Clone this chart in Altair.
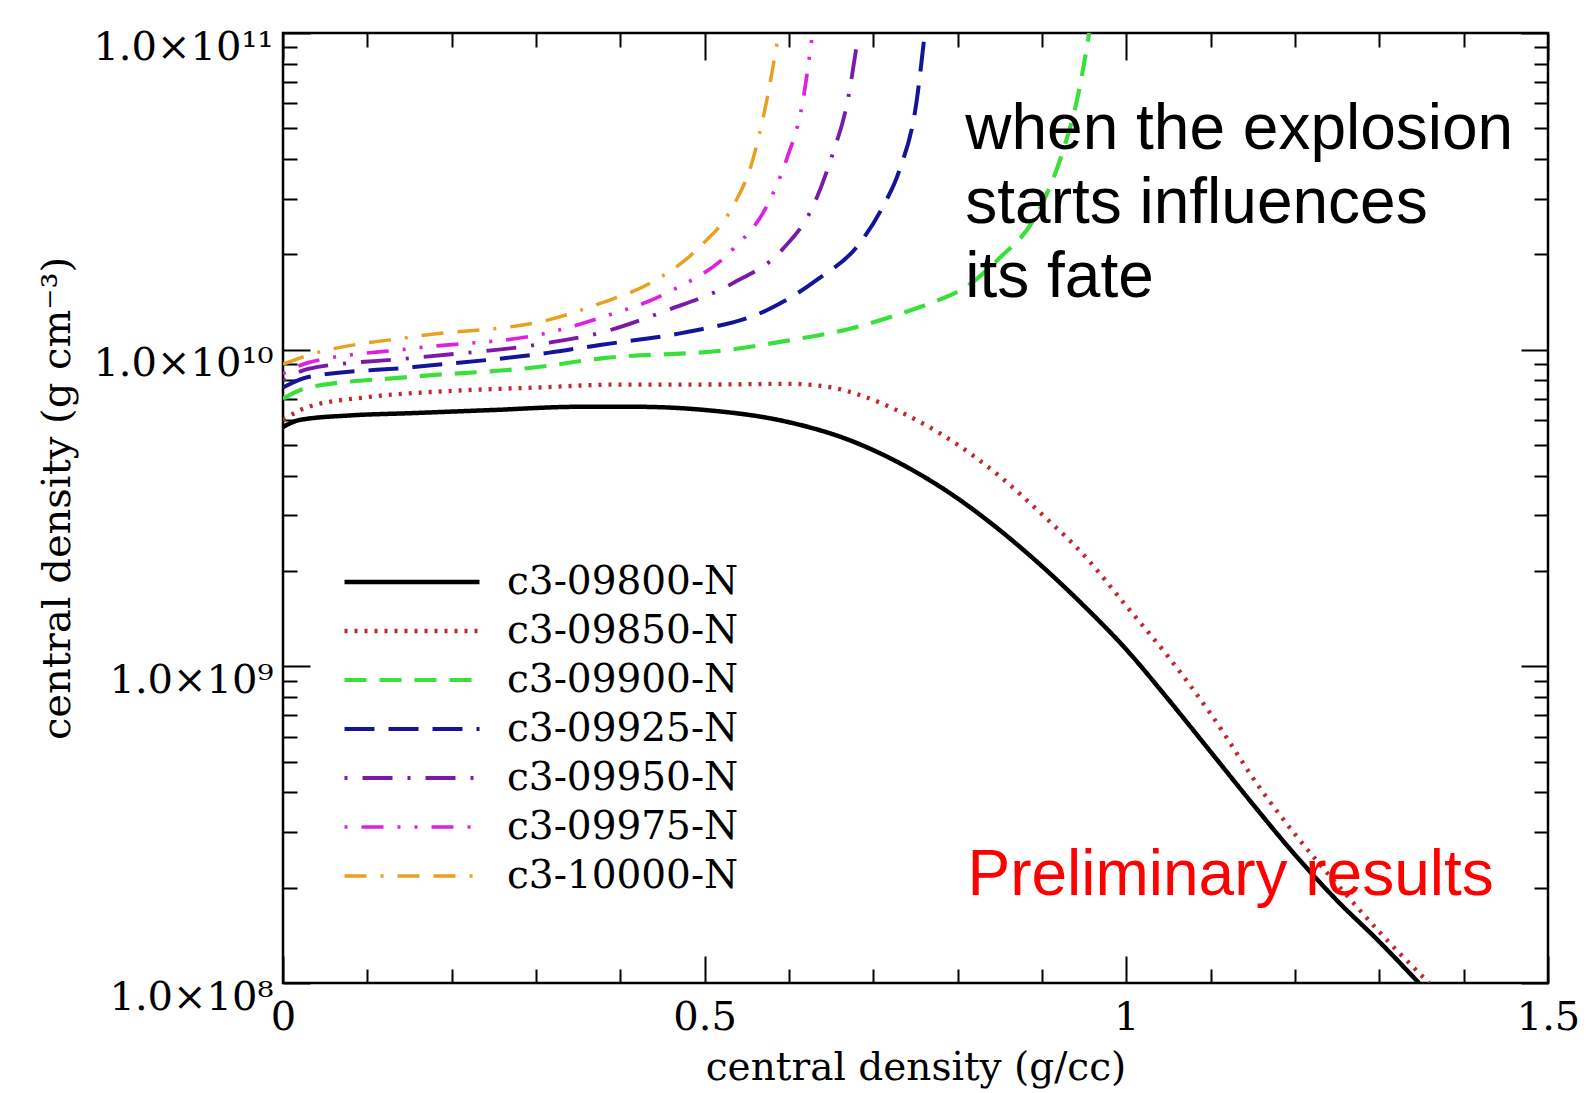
import altair as alt
import pandas as pd

# ---------------- data ----------------
SERIES = ["c3-09800-N", "c3-09850-N", "c3-09900-N", "c3-09925-N",
          "c3-09950-N", "c3-09975-N", "c3-10000-N"]
COLORS = ["#000000", "#c0282d", "#3ae03a", "#14149a", "#7a1aa6", "#e020e0", "#e8a020"]
DASHES = [[1, 0], [3, 7], [22, 13], [30, 14], [3, 15, 30, 15],
          [3, 14, 22, 14, 3, 14], [22, 14, 3, 14, 22, 14]]
WIDTHS = [4.5, 3.5, 3.5, 3.5, 3.5, 3.5, 3.5]

# x = central density (g/cc) ; rho in units of 1e9 g cm^-3
X_09800 = [0.0, 0.02, 0.08, 0.15, 0.25, 0.35, 0.42, 0.5, 0.6, 0.67, 0.73, 0.8, 0.85,
           0.9, 0.95, 1.0, 1.05, 1.1, 1.15, 1.2, 1.25, 1.3, 1.347]
R_09800 = [5.7, 6.0, 6.2, 6.3, 6.45, 6.6, 6.6, 6.45, 5.9, 5.2, 4.4, 3.39, 2.69,
           2.07, 1.55, 1.13, 0.785, 0.537, 0.367, 0.254, 0.182, 0.135, 0.1]

X_09850 = [0.0, 0.03, 0.1, 0.2, 0.3, 0.4, 0.5, 0.6, 0.65, 0.69, 0.73, 0.8, 0.85, 0.9,
           0.95, 1.0, 1.05, 1.1, 1.16, 1.2, 1.26, 1.3, 1.359]
R_09850 = [6.0, 6.6, 7.08, 7.41, 7.59, 7.76, 7.76, 7.8, 7.6, 7.1, 6.4, 5.01, 3.98, 3.02,
           2.24, 1.55, 1.07, 0.708, 0.407, 0.295, 0.191, 0.145, 0.1]

X_09900 = [0.0, 0.03, 0.15, 0.3, 0.38, 0.53, 0.6, 0.67, 0.74, 0.77, 0.81, 0.85,
           0.89, 0.91, 0.924, 0.944, 0.956]
R_09900 = [7.0, 7.6, 8.2, 8.8, 9.4, 10.0, 10.7, 11.6, 13.2, 14.1, 15.8, 19.5,
           25.7, 33.0, 41.7, 66.0, 100.0]

X_09925 = [0.0, 0.03, 0.155, 0.314, 0.376, 0.474, 0.573, 0.633, 0.684, 0.711,
           0.731, 0.751, 0.761]
R_09925 = [7.6, 8.2, 8.81, 9.77, 10.35, 11.3, 13.3, 16.6, 21.7, 28.2, 36.9, 60.1, 100.0]

X_09950 = [0.0, 0.03, 0.155, 0.314, 0.376, 0.455, 0.533, 0.592, 0.628, 0.652, 0.669, 0.68]
R_09950 = [8.0, 8.7, 9.42, 10.5, 11.3, 13.3, 16.2, 20.7, 28.2, 41.7, 60.1, 90.4]

X_09975 = [0.0, 0.03, 0.155, 0.314, 0.376, 0.455, 0.533, 0.573, 0.597, 0.616, 0.628]
R_09975 = [8.4, 9.1, 10.1, 11.3, 12.6, 15.1, 20.7, 28.2, 39.8, 60.1, 100.0]

X_10000 = [0.0, 0.03, 0.155, 0.314, 0.376, 0.435, 0.494, 0.533, 0.556, 0.573, 0.586]
R_10000 = [9.0, 9.6, 11.0, 12.4, 14.0, 16.2, 21.1, 28.2, 38.9, 60.1, 93.3]

XS = [X_09800, X_09850, X_09900, X_09925, X_09950, X_09975, X_10000]
RS = [R_09800, R_09850, R_09900, R_09925, R_09950, R_09975, R_10000]

X_MAJOR = [0, 0.5, 1, 1.5]
X_MINOR = [0.1, 0.2, 0.3, 0.4, 0.6, 0.7, 0.8, 0.9, 1.1, 1.2, 1.3, 1.4]
Y_MAJOR = [1e8, 1e9, 1e10, 1e11]
Y_TICK_LABELS = ["1.0×10⁸", "1.0×10⁹", "1.0×10¹⁰", "1.0×10¹¹"]
Y_MINOR = [k * 10.0 ** n for n in (8, 9, 10) for k in range(2, 10)]

ANNOT_TEXT = ["when the explosion\nstarts influences\nits fate", "Preliminary results"]
ANNOT_X = [0.809, 0.8116]
ANNOT_Y = [4.3e10, 1.9e8]
ANNOT_COLOR = ["#000000", "#ff0000"]

# ---------------- table ----------------
rows = []
for name, xs, rs in zip(SERIES, XS, RS):
    for x, r in zip(xs, rs):
        rows.append({"series": name, "x": x, "rho": r * 1e9})
df = pd.DataFrame(rows)

W, H = 1265, 950
xscale = alt.Scale(domain=[0, 1.5], nice=False, zero=False)
yscale = alt.Scale(type="log", domain=[1e8, 1e11], nice=False)

# label expression for y
expr = "'" + Y_TICK_LABELS[-1] + "'"
for v, lab in reversed(list(zip(Y_MAJOR[:-1], Y_TICK_LABELS[:-1]))):
    expr = f"datum.value < {v * 3:g} ? '{lab}' : ({expr})"

SERIF = "DejaVu Serif"

lines = alt.Chart(df).mark_line(interpolate="monotone", clip=True, strokeCap="butt").encode(
    x=alt.X("x:Q", scale=xscale,
            axis=alt.Axis(values=X_MAJOR, format="~g", orient="bottom", ticks=False, domain=False,
                          grid=False, labelFlush=False, labelOverlap=False,
                          labelFont=SERIF, labelFontSize=40, labelPadding=14, labelColor="black",
                          title="central density (g/cc)", titleFont=SERIF, titleFontSize=39,
                          titleFontWeight="normal", titleColor="black",
                          titleX=W / 2, titleY=84, titleBaseline="middle", titleAlign="center")),
    y=alt.Y("rho:Q", scale=yscale,
            axis=alt.Axis(values=Y_MAJOR, labelExpr=expr, orient="left", ticks=False, domain=False,
                          grid=False, labelOverlap=False, labelBound=False, labelLimit=400,
                          labelFont=SERIF, labelFontSize=40, labelPadding=10, labelOffset=14,
                          labelColor="black", labelBaseline="middle",
                          title="central density (g cm⁻³)", titleFont=SERIF, titleFontSize=40,
                          titleFontWeight="normal", titleColor="black", titleAngle=270,
                          titleX=-226, titleY=465, titleBaseline="middle", titleAlign="center",
                          titleLimit=800)),
    color=alt.Color("series:N", scale=alt.Scale(domain=SERIES, range=COLORS),
                    legend=alt.Legend(title=None, orient="none", legendX=59, legendY=524.5,
                                      padding=0, offset=0, symbolType="stroke", symbolSize=18225,
                                      symbolStrokeWidth=3.5, clipHeight=49, rowPadding=0,
                                      labelOffset=25, labelFont=SERIF, labelFontSize=39,
                                      labelColor="black", labelLimit=400)),
    strokeDash=alt.StrokeDash("series:N", scale=alt.Scale(domain=SERIES, range=DASHES)),
    strokeWidth=alt.StrokeWidth("series:N", scale=alt.Scale(domain=SERIES, range=WIDTHS),
                                legend=None),
)


def tick_layer(xvals, yvals, xorient, yorient, size):
    return alt.Chart(df).mark_point(opacity=0, size=1).encode(
        x=alt.X("x:Q", scale=xscale,
                axis=alt.Axis(values=xvals, orient=xorient, offset=-H, labels=False, domain=False,
                              grid=False, ticks=True, tickSize=size, tickWidth=2,
                              tickColor="black", title=None)),
        y=alt.Y("rho:Q", scale=yscale,
                axis=alt.Axis(values=yvals, orient=yorient, offset=-W, labels=False, domain=False,
                              grid=False, ticks=True, tickSize=size, tickWidth=2,
                              tickColor="black", title=None)),
    )


t1 = tick_layer(X_MAJOR, Y_MAJOR, "top", "right", 27)
t2 = tick_layer(X_MINOR, Y_MINOR, "top", "right", 14)
t3 = tick_layer(X_MAJOR, Y_MAJOR, "bottom", "left", 27)
t4 = tick_layer(X_MINOR, Y_MINOR, "bottom", "left", 14)

annot_df = pd.DataFrame({"text": ANNOT_TEXT, "x": ANNOT_X, "y": ANNOT_Y, "color": ANNOT_COLOR})
annot = alt.Chart(annot_df).mark_text(
    align="left", baseline="alphabetic", font="Liberation Sans", fontSize=64,
    lineBreak="\n", lineHeight=74
).encode(
    x=alt.X("x:Q", scale=xscale, axis=None),
    y=alt.Y("y:Q", scale=yscale, axis=None),
    text="text:N",
    color=alt.Color("color:N", scale=None),
)

chart = alt.layer(lines, t1, t2, t3, t4, annot).resolve_axis(
    x="independent", y="independent"
).properties(
    width=W, height=H,
    autosize=alt.AutoSizeParams(type="none"),
    padding={"left": 283, "top": 33, "right": 38, "bottom": 110},
    background="white",
).configure_view(stroke="black", strokeWidth=2.5)

chart.save("out.html", embed_options={"renderer": "svg", "actions": False})
